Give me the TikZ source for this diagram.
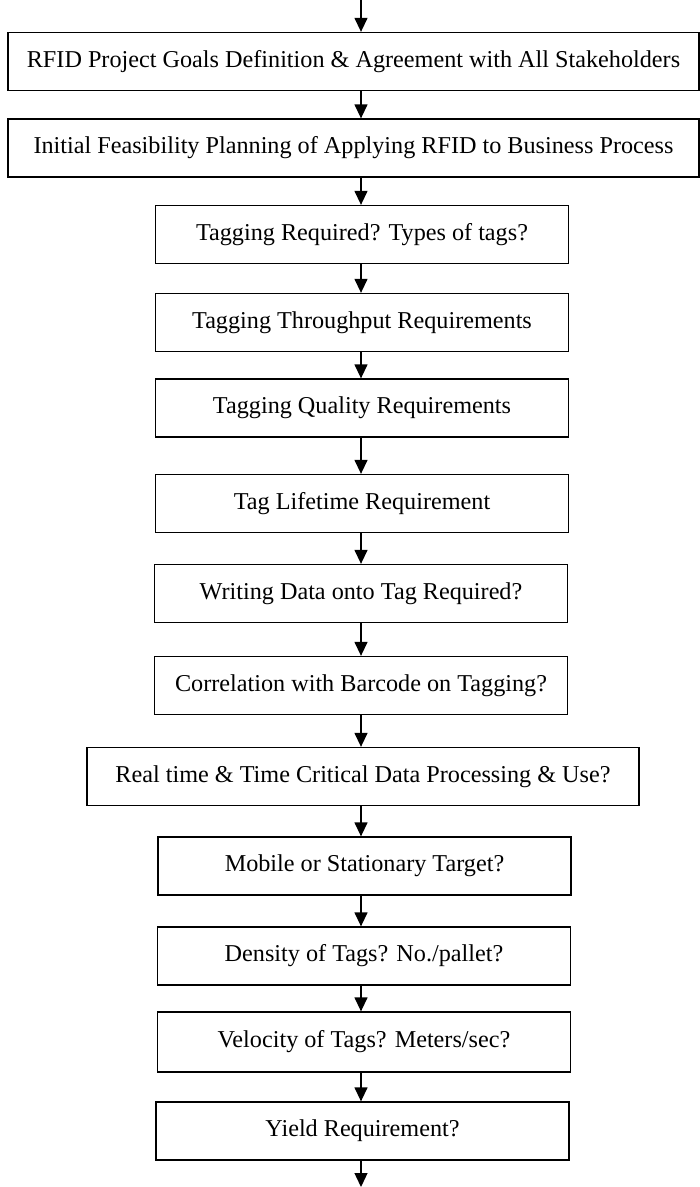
\documentclass[tikz,border=0pt]{standalone}
\usepackage{fontspec}
\setmainfont{Liberation Serif}
\usetikzlibrary{arrows.meta,calc}

\begin{document}
\begin{tikzpicture}[x=1pt,y=-1pt,
  stepbox/.style={draw=black, line width=1.3pt, fill=white, inner sep=0pt,
    minimum height=58pt, font=\fontsize{24.2}{28}\selectfont},
  narrowbox/.style={stepbox, minimum width=413pt},
  widebox/.style={stepbox, minimum width=691pt},
  flow/.style={line width=1.3pt, -{Triangle[length=14pt,width=13pt]}}]

\useasboundingbox (0,0) rectangle (700,1187);

% vertical spine that all connectors follow
\coordinate (spine) at (361,0);
\coordinate (exit) at (361,1187);

\node[widebox] (b1) at (353.5,61.5) {RFID Project Goals Definition \& Agreement with All Stakeholders};
\node[widebox] (b2) at (353.5,148) {Initial Feasibility Planning of Applying RFID to Business Process};
\node[narrowbox] (b3) at (362,234.5) {Tagging Required? Types of tags?};
\node[narrowbox] (b4) at (362,322.5) {Tagging Throughput Requirements};
\node[narrowbox] (b5) at (362,408) {Tagging Quality Requirements};
\node[narrowbox] (b6) at (362,503.5) {Tag Lifetime Requirement};
\node[narrowbox] (b7) at (361,593.5) {Writing Data onto Tag Required?};
\node[narrowbox] (b8) at (361,685.5) {Correlation with Barcode on Tagging?};
\node[stepbox, minimum width=552pt] (b9) at (363,776.5) {Real time \& Time Critical Data Processing \& Use?};
\node[narrowbox] (b10) at (364.5,866) {Mobile or Stationary Target?};
\node[narrowbox] (b11) at (364,956) {Density of Tags? No./pallet?};
\node[narrowbox, minimum height=60pt] (b12) at (364,1042) {Velocity of Tags? Meters/sec?};
\node[narrowbox] (b13) at (362.5,1131) {Yield Requirement?};

\draw[flow] (spine) -- (spine |- b1.north);
\foreach \a/\b in {b1/b2,b2/b3,b3/b4,b4/b5,b5/b6,b6/b7,b7/b8,b8/b9,b9/b10,b10/b11,b11/b12,b12/b13}
  \draw[flow] (\a.south -| spine) -- (\b.north -| spine);
\draw[flow] (b13.south -| spine) -- (exit);

\end{tikzpicture}
\end{document}
